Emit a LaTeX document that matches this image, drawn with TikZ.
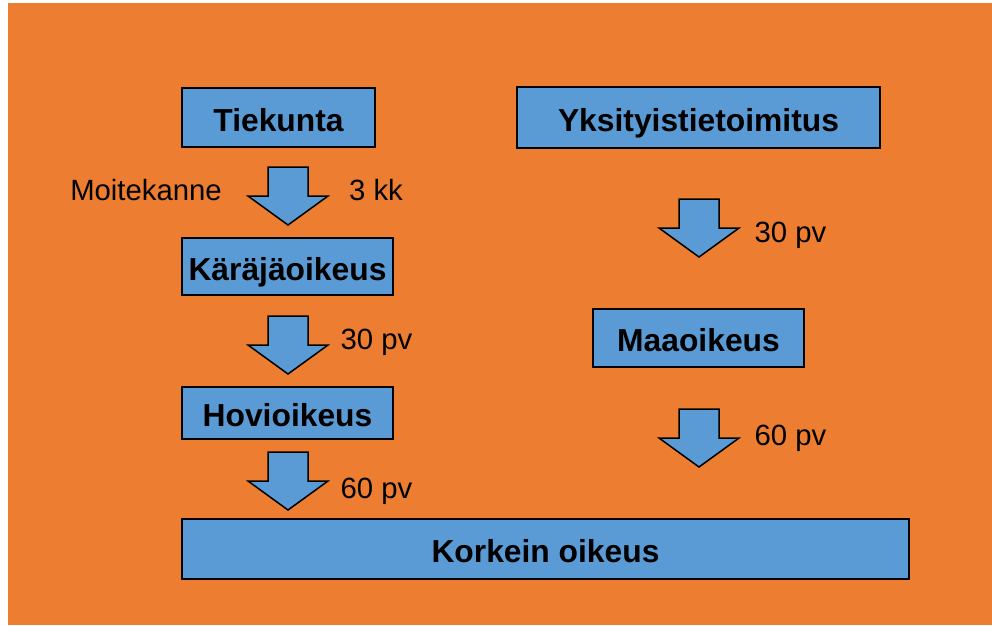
\documentclass[tikz,border=0pt]{standalone}
\usepackage{fontspec}
\setmainfont{Liberation Sans}
\definecolor{bgorange}{HTML}{ED7D31}
\definecolor{boxblue}{HTML}{5B9BD5}
\begin{document}
\begin{tikzpicture}[x=1pt,y=-1pt,
  court/.style={draw=black, line width=2pt, fill=boxblue, inner sep=0pt, outer sep=0pt,
    font=\fontsize{31.8}{36}\selectfont\bfseries, text height=27.5pt, text depth=0pt},
  lbl/.style={font=\fontsize{29.3}{34}\selectfont, anchor=base, inner sep=0pt},
  blockarrow/.style={draw=black, line width=1.5pt, fill=boxblue, line join=miter},
  pics/darrow/.style={code={
    \draw[blockarrow] (-20,0) -- (20,0) -- (20,29) -- (40,29) -- (0,58) -- (-40,29) -- (-20,29) -- cycle;}}]
\useasboundingbox (0,0) rectangle (992,625);
\fill[bgorange] (8,3) rectangle (992,625);

% left column
\node[court, minimum width=193pt, minimum height=59pt] (tie) at (278.5,117.5) {Tiekunta};
\node[court, minimum width=211pt, minimum height=57pt] (kar) at (287.5,266.5) {Käräjäoikeus};
\node[court, minimum width=211pt, minimum height=52pt] (hov) at (287.5,413) {Hovioikeus};
\node[court, minimum width=727pt, minimum height=60pt] (kko) at (545.5,549) {Korkein oikeus};

% right column
\node[court, minimum width=363pt, minimum height=61pt] (yks) at (698.5,117.5) {Yksityistietoimitus};
\node[court, minimum width=211pt, minimum height=58pt] (maa) at (698.5,338) {Maaoikeus};

% block arrows
\pic (a1) at (288,167) {darrow};
\pic (a2) at (288,316) {darrow};
\pic (a3) at (288,452) {darrow};
\pic (a4) at (699,199) {darrow};
\pic (a5) at (699,409) {darrow};

% labels
\node[lbl] (moite) at (146,200) {Moitekanne};
\node[lbl] (kk) at (376,200) {3 kk};
\node[lbl] (pv1) at (376.5,349) {30 pv};
\node[lbl] (pv2) at (376.5,498) {60 pv};
\node[lbl] (pv3) at (790.5,242) {30 pv};
\node[lbl] (pv4) at (790.5,445) {60 pv};
\end{tikzpicture}
\end{document}
